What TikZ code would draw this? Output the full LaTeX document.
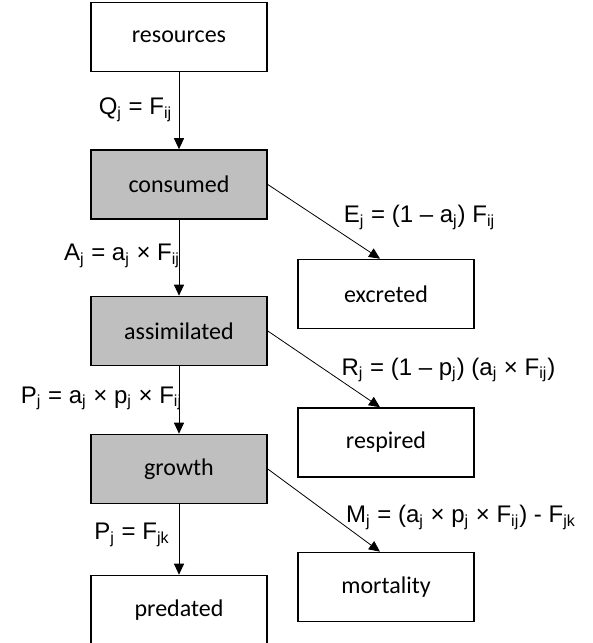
\documentclass[tikz,border=0pt]{standalone}
\usepackage{fontspec}
\setmainfont{Carlito}
\newfontfamily\flowfont{Liberation Sans}
\usetikzlibrary{arrows.meta}
\definecolor{poolgray}{RGB}{191,191,191}
\tikzset{
  stock/.style={draw, line width=0.8pt, minimum width=88pt, minimum height=34.5pt,
    inner sep=0pt, font=\fontsize{12}{14}\selectfont},
  pool/.style={stock, fill=poolgray},
  flow/.style={-{Triangle[width=5pt,length=5.5pt]}, line width=0.5pt},
  loss/.style={flow, line width=0.4pt},
  rate/.style={inner sep=0pt, font=\flowfont\fontsize{12}{14}\selectfont},
}
\newcommand{\sbs}[1]{\textsubscript{#1}}
\begin{document}
\begin{tikzpicture}[x=0.5pt,y=-0.5pt]
% \draw [help lines,step=10] (0,0) grid (593,643) ;
\useasboundingbox (0,0) rectangle (593,643);
% main column
\node [stock] (resources)   at (179,37)    {resources};
\node [pool]  (consumed)    at (179,184.5) {consumed};
\node [pool]  (assimilated) at (179,331)   {assimilated};
\node [pool]  (growth)      at (179,469)   {growth};
\node [stock] (predated)    at (179,610)   {predated};
% losses
\node [stock] (excreted)  at (386,294)   {excreted};
\node [stock] (respired)  at (386,442.5) {respired};
\node [stock] (mortality) at (386,587)   {mortality};
\draw [flow] (resources) -- (consumed);
\draw [flow] (consumed) -- (assimilated);
\draw [flow] (assimilated) -- (growth);
\draw [flow] (growth) -- (predated);
\draw [loss] (consumed.east) -- ([xshift=-3pt]excreted.north);
\draw [loss] (assimilated.east) -- ([xshift=-3pt]respired.north);
\draw [loss] (growth.east) -- ([xshift=-3pt]mortality.north);
% rates
\node [rate] (qj) at (135.5,110) {Q\sbs{j} = F\sbs{ij}};
\node [rate] (aj) at (122,256) {A\sbs{j} = a\sbs{j} × F\sbs{ij}};
\node [rate] (pj) at (101.5,398.5) {P\sbs{j} = a\sbs{j} × p\sbs{j} × F\sbs{ij}};
\node [rate] (pk) at (132,535) {P\sbs{j} = F\sbs{jk}};
\node [rate] (ej) at (419.5,217.5) {E\sbs{j} = (1 – a\sbs{j}) F\sbs{ij}};
\node [rate] (rj) at (448.5,370) {R\sbs{j} = (1 – p\sbs{j}) (a\sbs{j} × F\sbs{ij})};
\node [rate] (mj) at (461,517.5) {M\sbs{j} = (a\sbs{j} × p\sbs{j} × F\sbs{ij}) - F\sbs{jk}};
\end{tikzpicture}
\end{document}
